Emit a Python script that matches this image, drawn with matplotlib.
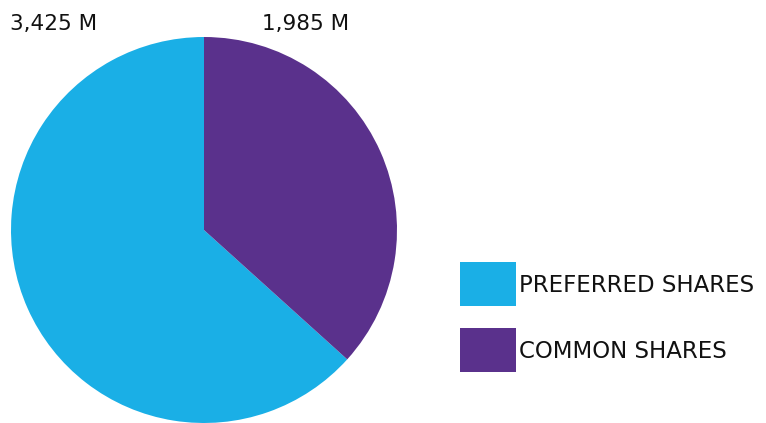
import matplotlib
matplotlib.use('Agg')
from matplotlib import pyplot as plt
from matplotlib.patches import Rectangle

# Share counts (millions)
categories = ['PREFERRED SHARES', 'COMMON SHARES']
values = [3425, 1985]
value_labels = ['3,425 M', '1,985 M']
colors = ['#1AAFE6', '#5A318C']

W, H = 766, 423
fig = plt.figure(figsize=(W / 100, H / 100), dpi=100)

# Pie axes, square in pixels
ax = fig.add_axes([11 / W, 0 / H, 386 / W, 386 / H])
ax.pie(
    values,
    colors=colors,
    startangle=90,
    counterclock=True,
    radius=1,
    wedgeprops={'linewidth': 0},
)
ax.set_xlim(-1, 1)
ax.set_ylim(-1, 1)
ax.set_aspect('equal')
ax.axis('off')

# Value labels above the pie
for x, lab in zip([10, 262], value_labels):
    fig.text(x / W, 1 - 30 / H, lab, fontsize=15.5,
             family='DejaVu Sans', color='#111111',
             ha='left', va='baseline')

# Legend drawn by hand: colour box + label
box_tops = [262, 328]
for top, c, lab in zip(box_tops, colors, categories):
    fig.patches.append(Rectangle(
        (460 / W, 1 - (top + 44) / H), 56 / W, 44 / H,
        transform=fig.transFigure, facecolor=c, edgecolor='none'))
    fig.text(519 / W, 1 - (top + 30) / H, lab, fontsize=16.5,
             family='DejaVu Sans', color='#111111',
             ha='left', va='baseline')

fig.savefig('out.png', dpi=100)
